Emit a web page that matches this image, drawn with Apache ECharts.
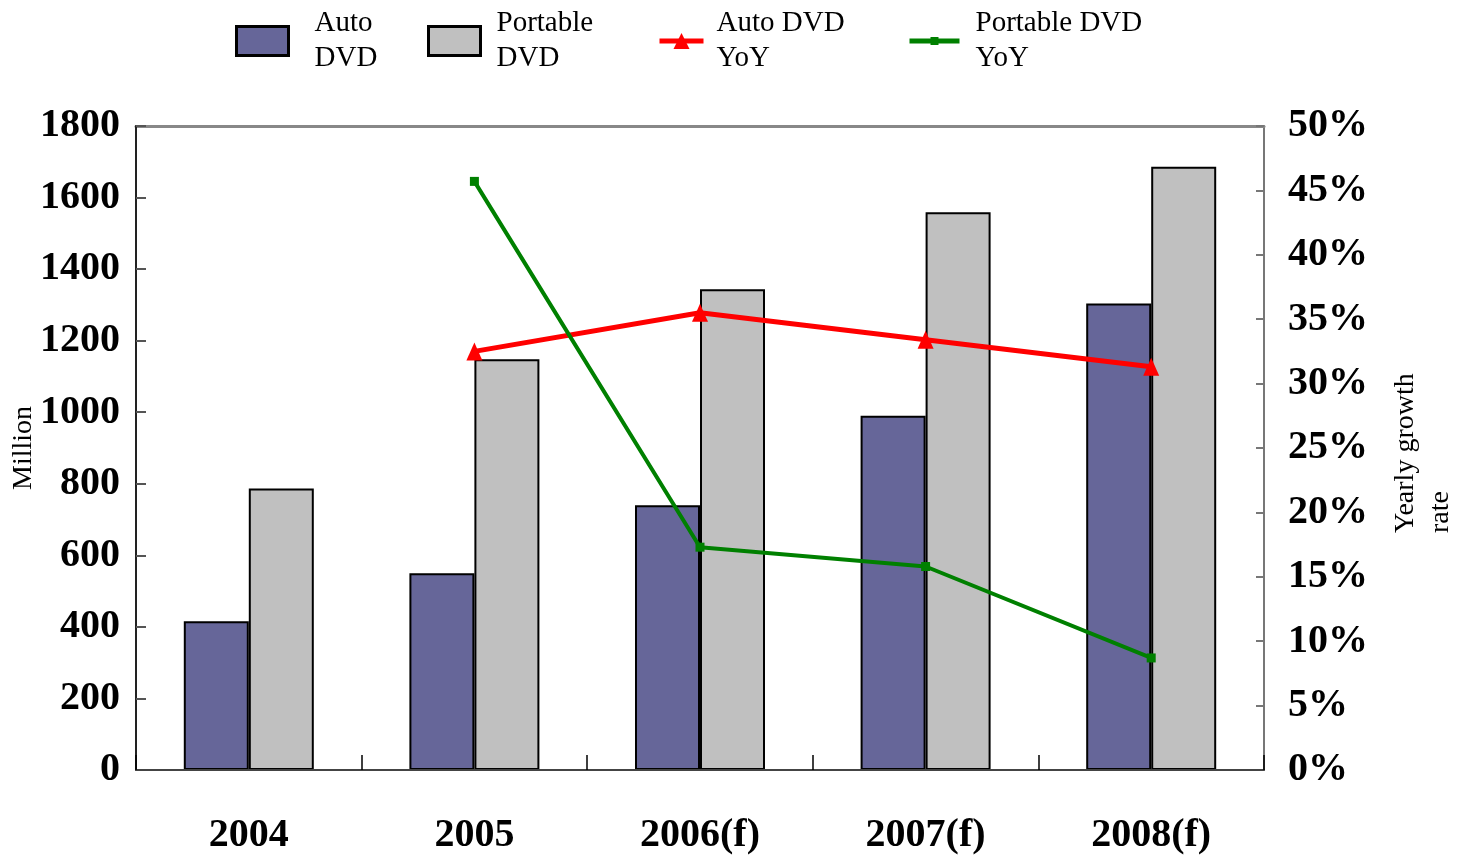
<!DOCTYPE html>
<html>
<head>
<meta charset="utf-8">
<script src="https://cdn.jsdelivr.net/npm/echarts@6/dist/echarts.min.js"></script>
<style>
  html, body { margin: 0; padding: 0; background: #fff; }
  #chart { width: 1458px; height: 861px; }
</style>
</head>
<body>
<div id="chart"></div>
<script>
// Shipments (million units) and year-over-year growth, 2004-2008
const years = ['2004', '2005', '2006(f)', '2007(f)', '2008(f)'];
const autoDvd = [416, 550, 740, 990, 1304];
const portableDvd = [787, 1148, 1344, 1559, 1686];
const autoYoY = [null, 32.5, 35.5, 33.4, 31.3];
const portableYoY = [null, 45.7, 17.3, 15.8, 8.7];
const leftTicks = { min: 0, max: 1800, interval: 200 };
const rightTicks = { min: 0, max: 50, interval: 5 };

const serif = '"Liberation Serif", "Times New Roman", serif';
const tickFont = { fontFamily: serif, fontWeight: 'bold', fontSize: 40, color: '#000' };
const legendText = { fontFamily: serif, fontSize: 29, color: '#000', lineHeight: 35 };

const chart = echarts.init(document.getElementById('chart'));

function legendItem(name, label, left, w, h, pad, extra) {
  return Object.assign({
    data: [name],
    left: left,
    top: 1,
    itemWidth: w,
    itemHeight: h,
    formatter: () => label,
    textStyle: Object.assign({}, legendText, { padding: [0, 0, 0, pad] }),
    selectedMode: false
  }, extra || {});
}

chart.setOption({
  animation: false,
  backgroundColor: '#fff',
  legend: [
    legendItem('Auto DVD', 'Auto\nDVD', 230, 52, 29, 21,
      { icon: 'rect', itemStyle: { borderWidth: 3, borderColor: '#000' } }),
    legendItem('Portable DVD', 'Portable\nDVD', 422, 52, 29, 11,
      { icon: 'rect', itemStyle: { borderWidth: 3, borderColor: '#000' } }),
    legendItem('Auto DVD YoY', 'Auto DVD\nYoY', 652, 44, 20, 8,
      { lineStyle: { width: 5 } }),
    legendItem('Portable DVD YoY', 'Portable DVD\nYoY', 902, 50, 10, 11,
      { lineStyle: { width: 5 } })
  ],
  grid: {
    left: 136, right: 194, top: 126, bottom: 91,
    containLabel: false,
    outerBoundsMode: 'none'
  },
  xAxis: [
    {
      type: 'category',
      data: years,
      boundaryGap: true,
      position: 'bottom',
      axisLine: { show: true, onZero: false, lineStyle: { color: '#444', width: 2 } },
      axisTick: { show: true, inside: true, length: 15, alignWithLabel: false, lineStyle: { color: '#000', width: 1.5 } },
      axisLabel: Object.assign({}, tickFont, { margin: 46, interval: 0 }),
      z: 4
    },
    {
      // top frame edge of the plot area
      type: 'category',
      data: years,
      position: 'top',
      axisLine: { show: true, onZero: false, lineStyle: { color: '#888', width: 3 } },
      axisTick: { show: false },
      axisLabel: { show: false }
    }
  ],
  yAxis: [
    {
      type: 'value',
      position: 'left',
      min: leftTicks.min, max: leftTicks.max, interval: leftTicks.interval,
      name: 'Million',
      nameLocation: 'middle',
      nameGap: 98,
      nameMoveOverlap: false,
      nameTextStyle: { fontFamily: serif, fontSize: 28, color: '#000' },
      axisLine: { show: true, onZero: false, lineStyle: { color: '#222', width: 2 } },
      axisTick: { show: true, inside: true, length: 10, lineStyle: { color: '#555', width: 2 } },
      axisLabel: Object.assign({}, tickFont, { margin: 16, formatter: v => String(v) }),
      splitLine: { show: false },
      z: 3
    },
    {
      type: 'value',
      position: 'right',
      min: rightTicks.min, max: rightTicks.max, interval: rightTicks.interval,
      name: '{a|Yearly growth}\n{a|rate}',
      nameLocation: 'middle',
      nameRotate: 90,
      nameGap: 124,
      nameTextStyle: {
        fontFamily: serif, fontSize: 28, color: '#000', lineHeight: 35,
        rich: { a: { fontFamily: serif, fontSize: 28, color: '#000', width: 170, align: 'left', lineHeight: 35 } }
      },
      axisLine: { show: true, onZero: false, lineStyle: { color: '#777', width: 2 } },
      axisTick: { show: true, inside: true, length: 8, lineStyle: { color: '#777', width: 2 } },
      axisLabel: Object.assign({}, tickFont, { margin: 24, formatter: v => v + '%' }),
      splitLine: { show: false }
    }
  ],
  series: [
    {
      name: 'Auto DVD',
      type: 'bar',
      data: autoDvd,
      barWidth: 65,
      barGap: '0%',
      itemStyle: { color: '#666699', borderColor: '#000', borderWidth: 2 }
    },
    {
      name: 'Portable DVD',
      type: 'bar',
      data: portableDvd,
      barWidth: 65,
      barGap: '0%',
      itemStyle: { color: '#C0C0C0', borderColor: '#000', borderWidth: 2 }
    },
    {
      name: 'Auto DVD YoY',
      type: 'line',
      yAxisIndex: 1,
      data: autoYoY,
      symbol: 'triangle',
      symbolSize: [16, 18],
      lineStyle: { color: '#FF0000', width: 5 },
      itemStyle: { color: '#FF0000' },
      z: 5
    },
    {
      name: 'Portable DVD YoY',
      type: 'line',
      yAxisIndex: 1,
      data: portableYoY,
      symbol: 'rect',
      symbolSize: 9,
      lineStyle: { color: '#008000', width: 4 },
      itemStyle: { color: '#008000' },
      z: 5
    }
  ]
});
</script>
</body>
</html>
